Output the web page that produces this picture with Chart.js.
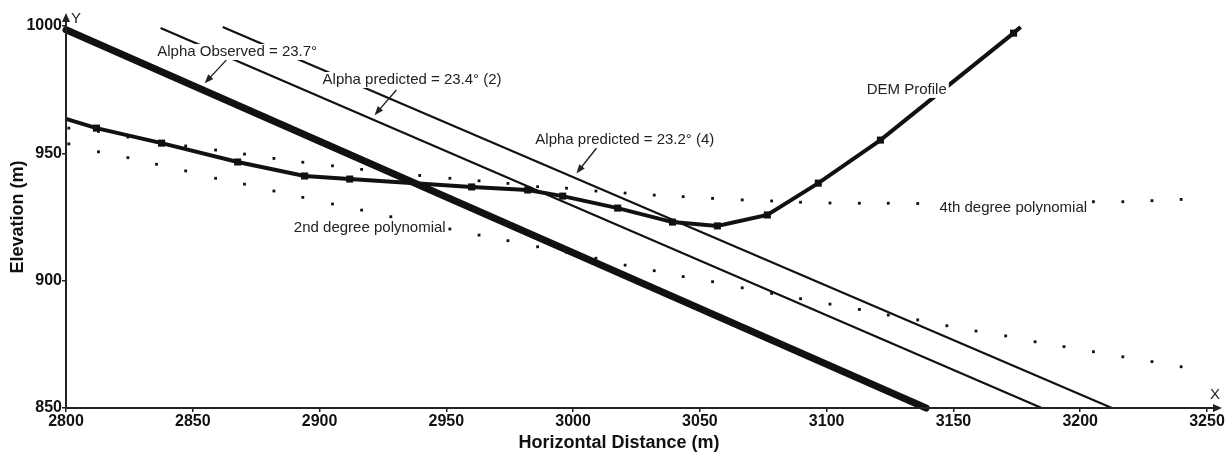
<!DOCTYPE html>
<html>
<head>
<meta charset="utf-8">
<script src="https://cdn.jsdelivr.net/npm/chart.js@4/dist/chart.umd.min.js"></script>
<style>
html,body{margin:0;padding:0;background:#fff}
#wrap{width:1226px;height:452px}
</style>
</head>
<body>
<div id="wrap"><canvas id="c"></canvas></div>
<script>
const xTicks=[2800,2850,2900,2950,3000,3050,3100,3150,3200,3250]
const yTicks=[850,900,950,1000]

// DEM profile (square markers)
const demX=[2800,2812.0,2837.7,2867.7,2894.1,2911.9,2960.0,2982.1,2995.9,3017.6,3039.2,3056.9,3076.6,3096.7,3121.2,3173.7,3176.5]
const demY=[963.5,959.9,954.0,946.6,941.1,939.9,936.8,935.6,933.2,928.5,923.0,921.5,925.8,938.3,955.2,997.2,999.6]

// polynomial fits (dotted), sampled at the same distances
const polyX=[2801.1,2812.8,2824.4,2835.7,2847.2,2859.0,2870.4,2882.0,2893.4,2905.1,2916.6,2928.1,2939.5,2951.4,2962.9,2974.3,2986.0,2997.4,3009.0,3020.5,3032.0,3043.4,3055.0,3066.7,3078.3,3089.7,3101.3,3112.9,3124.3,3135.9,3147.4,3158.9,3170.6,3182.2,3193.6,3205.2,3216.8,3228.3,3239.8]
const poly2Y=[953.7,950.6,948.3,945.7,943.1,940.2,937.9,935.2,932.7,930.1,927.7,925.1,922.8,920.3,917.9,915.7,913.3,911.1,908.8,906.1,903.9,901.6,899.6,897.2,895.0,892.9,890.8,888.7,886.5,884.6,882.3,880.2,878.3,876.0,874.1,872.1,870.1,868.2,866.2]
const poly4Y=[959.9,958.6,956.4,954.6,952.9,951.3,949.7,948.0,946.5,945.1,943.7,942.5,941.3,940.2,939.2,938.2,936.9,936.3,935.2,934.4,933.6,933.0,932.3,931.7,931.3,930.8,930.5,930.4,930.4,930.3,930.4,930.4,930.5,930.6,930.8,931.0,931.0,931.4,931.9]

// slope lines
const obsX=[2800,3139.2],obsY=[998.5,850]
const pred2X=[2837.3,3184.8],pred2Y=[999.2,850]
const pred4X=[2861.8,3212.5],pred4Y=[999.6,850]

const notes=[
  {text:"Alpha Observed = 23.7°",x:2867.5,y:989.8},
  {text:"Alpha predicted = 23.4° (2)",x:2936.5,y:978.8},
  {text:"Alpha predicted = 23.2° (4)",x:3020.4,y:955.2},
  {text:"DEM Profile",x:3131.6,y:974.9},
  {text:"2nd degree polynomial",x:2919.8,y:920.7},
  {text:"4th degree polynomial",x:3173.6,y:928.5}
]
const arrows=[
  [2863.2,986.6,2854.7,977.5],
  [2930.3,974.9,2921.7,965.0],
  [3009.2,952.0,3001.3,942.1]
]

const FONT='"Liberation Sans", Arial, Helvetica, sans-serif'
Chart.defaults.font.family=FONT

const pts=(xs,ys)=>xs.map((v,i)=>({x:v,y:ys[i]}))

function head(ctx,bx,by,t,len,wid){
  ctx.beginPath();ctx.moveTo(bx,by)
  ctx.lineTo(bx-len*Math.cos(t)+wid*Math.sin(t),by-len*Math.sin(t)-wid*Math.cos(t))
  ctx.lineTo(bx-len*Math.cos(t)-wid*Math.sin(t),by-len*Math.sin(t)+wid*Math.cos(t))
  ctx.closePath();ctx.fill()
}

const deco={
  id:"deco",
  afterDatasetsDraw(ch){
    const {ctx,chartArea:a,scales:{x,y}}=ch
    ctx.save()
    ctx.font="15px "+FONT
    ctx.textAlign="center";ctx.textBaseline="middle"
    notes.forEach(n=>{
      const px=x.getPixelForValue(n.x),py=y.getPixelForValue(n.y)
      const w=ctx.measureText(n.text).width
      ctx.fillStyle="#fff";ctx.fillRect(px-w/2-2,py-8,w+4,16)
      ctx.fillStyle="#222";ctx.fillText(n.text,px,py)
    })

    ctx.strokeStyle="#222";ctx.fillStyle="#222";ctx.lineWidth=1.4
    arrows.forEach(([x0,y0,x1,y1])=>{
      const ax=x.getPixelForValue(x0),ay=y.getPixelForValue(y0)
      const bx=x.getPixelForValue(x1),by=y.getPixelForValue(y1)
      const t=Math.atan2(by-ay,bx-ax)
      ctx.beginPath();ctx.moveTo(ax,ay);ctx.lineTo(bx-5*Math.cos(t),by-5*Math.sin(t));ctx.stroke()
      head(ctx,bx,by,t,9,3.5)
    })

    // axes with arrow heads
    ctx.lineWidth=2
    ctx.beginPath()
    ctx.moveTo(a.left,a.bottom);ctx.lineTo(a.left,a.top-6)
    ctx.moveTo(a.left,a.bottom);ctx.lineTo(a.right+8,a.bottom)
    ctx.stroke()
    head(ctx,a.left,a.top-13,-Math.PI/2,9,4)
    head(ctx,a.right+15,a.bottom,0,9,4)

    ctx.textAlign="left"
    ctx.fillText("Y",a.left+5,a.top-7)
    ctx.textAlign="center"
    ctx.fillText("X",a.right+8,a.bottom-13)

    ctx.fillStyle="#111";ctx.font="bold 18px "+FONT
    ctx.fillText("Horizontal Distance (m)",a.left+553,443)
    ctx.restore()
  }
}

new Chart(document.getElementById("c"),{
  type:"scatter",
  data:{datasets:[
    {data:pts(demX,demY),showLine:true,borderColor:"#111",borderWidth:4,backgroundColor:"#111",
     pointStyle:"rect",pointRadius:demX.map((_,i)=>i==0||i==demX.length-1?0:5),pointBorderWidth:0,clip:false},
    {data:pts(obsX,obsY),showLine:true,borderColor:"#111",borderWidth:7,borderCapStyle:"round",pointRadius:0,clip:false},
    {data:pts(pred2X,pred2Y),showLine:true,borderColor:"#111",borderWidth:2.2,pointRadius:0,clip:false},
    {data:pts(pred4X,pred4Y),showLine:true,borderColor:"#111",borderWidth:2.2,pointRadius:0,clip:false},
    {data:pts(polyX,poly2Y),showLine:false,backgroundColor:"#111",pointStyle:"rect",pointRadius:2,pointBorderWidth:0,clip:false},
    {data:pts(polyX,poly4Y),showLine:false,backgroundColor:"#111",pointStyle:"rect",pointRadius:2,pointBorderWidth:0,clip:false}
  ]},
  options:{
    responsive:true,maintainAspectRatio:false,animation:false,devicePixelRatio:1,
    layout:{padding:{top:26,right:19,bottom:0,left:0}},
    plugins:{legend:{display:false},tooltip:{enabled:false}},
    events:[],
    scales:{
      x:{type:"linear",min:2800,max:3250,
        afterBuildTicks:s=>{s.ticks=xTicks.map(v=>({value:v}))},
        afterFit:s=>{s.height=44},
        grid:{drawOnChartArea:false,tickLength:4,color:"#222",lineWidth:1.5},
        border:{display:false},
        ticks:{color:"#111",font:{size:16,weight:"bold"},padding:0,maxRotation:0,autoSkip:false,callback:v=>String(v)}
      },
      y:{type:"linear",min:850,max:1000,
        afterBuildTicks:s=>{s.ticks=yTicks.map(v=>({value:v}))},
        afterFit:s=>{s.width=66},
        grid:{drawOnChartArea:false,tickLength:4,color:"#222",lineWidth:1.5},
        border:{display:false},
        ticks:{color:"#111",font:{size:16,weight:"bold"},padding:0,autoSkip:false,callback:v=>String(v)},
        title:{display:true,text:"Elevation (m)",color:"#111",font:{size:18,weight:"bold"},padding:{top:7,bottom:0}}
      }
    }
  },
  plugins:[deco]
})
</script>
</body>
</html>
